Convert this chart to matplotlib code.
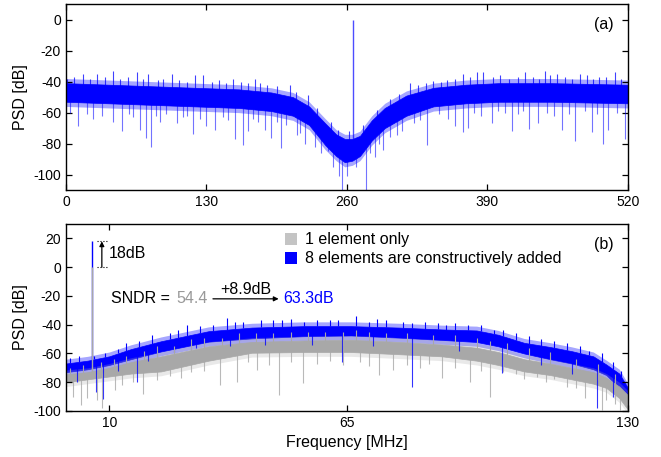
import numpy as np
import matplotlib
matplotlib.use("Agg")
import matplotlib.pyplot as plt
from matplotlib.patches import Patch

plt.rcParams['font.family'] = ['Liberation Sans', 'DejaVu Sans']
plt.rcParams['axes.unicode_minus'] = False

# ---- (a) full band spectrum, envelope of the dense noise floor [MHz, dB]
a_freq = [0, 40, 80, 120, 160, 190, 210, 225, 240, 250, 258, 265, 272, 283, 295, 315, 340, 370, 400, 450, 520]
a_hi = [-41, -42, -43, -44, -45, -47, -50, -56, -67, -74, -77, -77, -75, -65, -57, -49, -44, -42, -41, -41, -42]
a_lo = [-53, -54, -55, -56, -57, -59, -62, -68, -81, -88, -92, -91, -88, -78, -70, -62, -56, -54, -53, -53, -54]

# downward spikes (freq, lowest dB)
a_dn_f = [11.4, 25.3, 43.8, 51.5, 68.5, 74, 78.3, 87, 102.4, 117.8, 130, 138, 156.4, 164, 168.7,
          184, 190, 199, 213.5, 221, 242.7, 253, 255, 259.7, 277.3, 286, 293.6, 306, 333.7, 353.7,
          360, 367.6, 372, 394, 412.4, 428, 437, 458.7, 471, 486.4, 496.6, 501.8, 517,
          4, 19, 33, 58, 62, 83, 93, 108, 112, 124, 145, 150, 173, 178, 195, 204, 217, 230,
          236, 247, 268, 281, 290, 300, 311, 322, 328, 345, 378, 384, 400, 406, 418, 423,
          445, 452, 465, 480, 491, 510]
a_dn_v = [-68.7, -64, -66, -71.7, -71, -76.7, -82, -66, -66.5, -74, -68.7, -71, -77.3, -81, -72,
          -71.3, -76.7, -83, -74.5, -80, -85, -101, -110, -101, -110, -88.5, -84, -74.5, -81, -64,
          -68.7, -72.3, -70, -67, -72, -70.5, -67, -71, -78, -72.3, -80, -71, -77.3,
          -60, -61, -62, -61, -63, -62, -61, -63, -62, -64, -63, -65, -64, -66, -66, -68, -73, -82,
          -86, -95, -95, -86, -80, -76, -72, -67, -65, -61, -60, -62, -59, -60, -61, -59,
          -60, -62, -61, -59, -61, -60]
# upward spikes (freq, highest dB)
a_up_f = [0.6, 16, 28.4, 43.8, 65.4, 76, 97.8, 119.4, 127, 154.8, 175, 179.5, 207, 224,
          318, 340, 353, 367, 380, 386, 424.7, 443, 454, 475.6, 493, 508,
          7, 22, 36, 50, 57, 71, 85, 90, 105, 112, 135, 142, 148, 162, 168, 186, 195, 213, 232,
          245, 252, 262, 275, 288, 300, 308, 326, 333, 347, 360, 374, 395, 402, 410, 418, 432,
          438, 448, 462, 468, 482, 488, 500, 514]
a_up_v = [-38, -35, -34.8, -33, -33.7, -35, -35, -36, -36, -38, -38, -41, -42, -48.7,
          -41, -39.6, -39, -35.2, -33.7, -34, -33.7, -33, -35, -35, -37, -34,
          -37, -38, -37, -38, -37, -38, -39, -38, -39, -40, -40, -39, -41, -40, -41, -42, -43, -47, -57,
          -66, -71, -72, -68, -58, -51, -48, -42, -41, -40, -38, -37, -37, -36, -38, -37, -37,
          -38, -36, -37, -38, -36, -38, -37, -38]
a_tone_f = 265.8
a_tone_v = 0

# ---- (b) baseband spectrum, 1 element vs 8 elements [MHz, dB]
b_freq = [0, 5, 10, 15, 22, 33, 43, 55, 66, 77, 87, 95, 100, 106, 112, 117, 122, 125, 128, 130]
b8_hi = [-67, -65, -62, -57, -51.5, -44.5, -42, -41, -41, -42, -43.3, -44, -47, -52.6, -55.5, -58.4, -62, -67.7, -74, -84]
b8_lo = [-73, -71, -68, -64, -58.6, -51.8, -49.5, -48, -47.5, -49, -50.6, -52, -55, -60, -64, -67, -71, -75, -84, -96]
b1_hi = [-74.5, -73, -70, -66, -62, -55, -52, -51, -50.5, -52, -53.8, -56, -59, -64, -67, -70, -73, -77, -83, -89]
b1_lo = [-80, -78, -76, -74, -72.5, -65, -59.5, -59, -59, -60.5, -62, -65, -68, -72.5, -75, -78, -81, -84, -91, -99]

b1_dn_f = [1.7, 3.4, 4.8, 7.1, 8.3, 11.3, 17.9, 21, 29, 35.6, 39.5, 44.1, 49.3, 54.8,
           72.3, 75.7, 86.9, 93.5, 98, 108.9, 115.8, 120, 123.9, 125, 128.2,
           13, 15.5, 24, 26.5, 32, 42, 47, 52, 58, 61, 64, 68, 70, 79, 82, 84, 90, 96, 101,
           104, 106, 111, 113, 118, 127]
b1_dn_v = [-90, -95.8, -91, -92.3, -98, -85.4, -88, -78.4, -72.6, -82, -79.6, -71.4, -88.9, -80.7,
           -74.9, -71.4, -77.2, -79.6, -90, -76.5, -83, -91, -99, -92.3, -99,
           -82, -80, -76, -77, -72, -66, -68, -66, -67, -65, -68, -66, -69, -68, -70, -67, -70,
           -72, -73, -74, -78, -80, -78, -84, -95]
b8_dn_f = [2.5, 7.0, 8.6, 16.4, 63.8, 80.1, 100.8, 122.8, 126.5, 12, 19, 25, 30, 38, 46, 57, 71, 91, 110, 117]
b8_dn_v = [-80, -87, -92, -79.6, -65.6, -83, -73.7, -98, -90, -72, -65, -60, -56, -55, -54, -54, -55, -58, -68, -74]
b8_up_f = [3, 12, 20, 28, 37.2, 45, 52, 58, 67.2, 74, 83, 90, 96, 104, 110, 119, 124,
           1, 6.5, 9, 14, 17, 24, 26, 31, 34, 39, 41, 48, 50, 55, 61, 63, 70, 72, 78, 80, 86,
           88, 93, 99, 101, 107, 113, 116, 121, 126.5, 128.5]
b8_up_v = [-62, -57, -47, -40, -35.3, -37, -36, -37, -34.2, -37, -38, -39, -40, -46, -50, -55, -60,
           -63, -62, -60, -53, -51, -46, -44, -41, -40, -38, -38, -37, -37, -38, -37, -37, -38, -36,
           -38, -39, -39, -40, -40, -44, -44, -48, -51, -53, -58, -66, -72]
b1_up_f = [4, 14, 25, 36, 48, 60, 70, 85, 102, 118,
           1, 8, 11, 18, 21, 29, 32, 40, 44, 52, 56, 64, 67, 74, 79, 90, 95, 98, 107, 112, 123, 127]
b1_up_v = [-68, -62, -55, -49, -46, -45, -45, -47, -53, -64,
           -70, -66, -64, -58, -55, -50, -49, -46, -46, -45, -45, -45, -44, -46, -46, -47, -49, -51, -56, -59, -67, -74]
b_tone_f = 5.94
b8_tone_v = 18
b1_tone_v = 0

BLUE = '#0000ff'
GREY = '#a8a8a8'
HALO = 3.0  # soft fringe around the dense part of each trace [dB]


def band(ax, f, hi, lo, color, halo_alpha=0.35):
    hi = np.array(hi)
    lo = np.array(lo)
    ax.fill_between(f, hi + HALO, lo - HALO, color=color, lw=0, alpha=halo_alpha)
    ax.fill_between(f, hi, lo, color=color, lw=0.5)
    return (hi + lo) / 2


fig = plt.figure(figsize=(6.61, 4.57), dpi=100)
ax1 = fig.add_axes([0.0998, 0.584, 0.8502, 0.407])
ax2 = fig.add_axes([0.0998, 0.1007, 0.8502, 0.409])

# (a)
mid_a = band(ax1, a_freq, a_hi, a_lo, BLUE)
ax1.vlines(a_dn_f, a_dn_v, np.interp(a_dn_f, a_freq, mid_a), color=BLUE, lw=0.8, alpha=0.55)
ax1.vlines(a_up_f, np.interp(a_up_f, a_freq, mid_a), a_up_v, color=BLUE, lw=0.8, alpha=0.75)
ax1.vlines(a_tone_f, np.interp(a_tone_f, a_freq, mid_a), a_tone_v, color=BLUE, lw=1.0, alpha=0.7)

ax1.set_xlim(0, 520)
ax1.set_ylim(-110, 10)
ax1.set_xticks([0, 130, 260, 390, 520])
ax1.set_yticks([-100, -80, -60, -40, -20, 0])
ax1.set_ylabel('PSD [dB]', fontsize=11.5)
ax1.text(0.975, 0.93, '(a)', transform=ax1.transAxes, ha='right', va='top', fontsize=11.5)

# (b)
mid8 = band(ax2, b_freq, b8_hi, b8_lo, BLUE)
ax2.vlines(b8_dn_f, b8_dn_v, np.interp(b8_dn_f, b_freq, mid8), color=BLUE, lw=0.8, alpha=0.8)
ax2.vlines(b8_up_f, np.interp(b8_up_f, b_freq, b8_hi), b8_up_v, color=BLUE, lw=0.8)
ax2.vlines(b_tone_f, np.interp(b_tone_f, b_freq, mid8), b8_tone_v, color=BLUE, lw=1.0)
mid1 = band(ax2, b_freq, b1_hi, b1_lo, GREY, halo_alpha=0.25)
ax2.vlines(b1_dn_f, b1_dn_v, np.interp(b1_dn_f, b_freq, mid1), color=GREY, lw=0.8, alpha=0.8)
ax2.vlines(b1_up_f, np.interp(b1_up_f, b_freq, mid1), b1_up_v, color=GREY, lw=0.8)
ax2.vlines(b_tone_f, np.interp(b_tone_f, b_freq, mid1), b1_tone_v, color=GREY, lw=1.0)

ax2.set_xlim(0, 130)
ax2.set_ylim(-100, 30)
ax2.set_xticks([10, 65, 130])
ax2.set_yticks([-100, -80, -60, -40, -20, 0, 20])
ax2.set_ylabel('PSD [dB]', fontsize=11.5)
ax2.set_xlabel('Frequency [MHz]', fontsize=11.5)
ax2.text(0.975, 0.93, '(b)', transform=ax2.transAxes, ha='right', va='top', fontsize=11.5)

# 18 dB marker
ax2.annotate('', xy=(8.3, 18), xytext=(8.3, 0),
             arrowprops=dict(arrowstyle='-|>', color='black', lw=0.9, mutation_scale=7,
                             shrinkA=0, shrinkB=0))
ax2.plot([7.2, 9.4], [18, 18], color='black', lw=0.8, ls=':')
ax2.plot([7.2, 9.4], [0, 0], color='black', lw=0.8, ls=':')
ax2.text(10.0, 9.5, '18dB', fontsize=11.5, va='center', ha='left')

# SNDR annotation
ax2.text(10.4, -22, 'SNDR = ', fontsize=11.5, va='center', ha='left')
ax2.text(25.6, -22, '54.4', fontsize=11.5, va='center', ha='left', color='#999999')
ax2.annotate('', xy=(49.2, -22), xytext=(34.0, -22),
             arrowprops=dict(arrowstyle='-|>', color='black', lw=0.9, mutation_scale=7,
                             shrinkA=0, shrinkB=0))
ax2.text(41.5, -15.5, '+8.9dB', fontsize=11.5, va='center', ha='center')
ax2.text(50.2, -22, '63.3dB', fontsize=11.5, va='center', ha='left', color=BLUE)

handles = [Patch(facecolor='#c4c4c4', edgecolor='none', label='1 element only'),
           Patch(facecolor=BLUE, edgecolor='none', label='8 elements are constructively added')]
ax2.legend(handles=handles, loc='upper left', bbox_to_anchor=(0.39, 0.955), frameon=False,
           fontsize=11.5, handlelength=0.75, handleheight=0.75, handletextpad=0.5,
           borderpad=0, borderaxespad=0, labelspacing=0.25)

for ax in (ax1, ax2):
    ax.tick_params(direction='in', top=True, right=True, length=4, width=0.9, labelsize=10)
    for s in ax.spines.values():
        s.set_linewidth(1.0)

fig.savefig('out.png', dpi=100)
